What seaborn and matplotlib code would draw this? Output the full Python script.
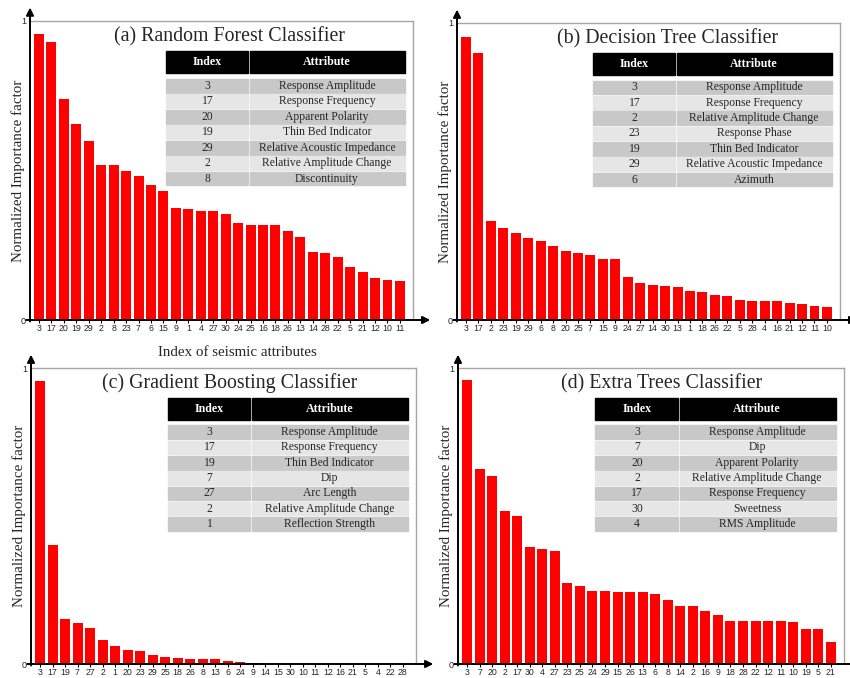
import numpy as np
import pandas as pd
import matplotlib
matplotlib.use("Agg")
import matplotlib.pyplot as plt
from matplotlib.patches import Rectangle
import seaborn as sns

# ---- data ----
rf_idx = [3, 17, 20, 19, 29, 2, 8, 23, 7, 6, 15, 9, 1, 4, 27, 30, 24, 25, 16, 18,
          26, 13, 14, 28, 22, 5, 21, 12, 10, 11]
rf_imp = [0.956, 0.931, 0.740, 0.657, 0.598, 0.519, 0.518, 0.499, 0.480, 0.451,
          0.430, 0.375, 0.371, 0.365, 0.365, 0.355, 0.323, 0.319, 0.319, 0.317,
          0.296, 0.279, 0.227, 0.225, 0.210, 0.177, 0.162, 0.140, 0.133, 0.129]

dt_idx = [3, 17, 2, 23, 19, 29, 6, 8, 20, 25, 7, 15, 9, 24, 27, 14, 30, 13, 1, 18,
          26, 22, 5, 28, 4, 16, 21, 12, 11, 10]
dt_imp = [0.954, 0.899, 0.335, 0.309, 0.294, 0.275, 0.265, 0.248, 0.233, 0.225,
          0.219, 0.204, 0.204, 0.146, 0.123, 0.119, 0.113, 0.111, 0.099, 0.095,
          0.084, 0.080, 0.068, 0.065, 0.063, 0.063, 0.058, 0.053, 0.047, 0.043]

gb_idx = [3, 17, 19, 7, 27, 2, 1, 20, 23, 29, 25, 18, 26, 8, 13, 6, 24, 9, 14, 15,
          30, 10, 11, 12, 16, 21, 5, 4, 22, 28]
gb_imp = [0.956, 0.401, 0.153, 0.139, 0.122, 0.082, 0.060, 0.046, 0.043, 0.030,
          0.024, 0.019, 0.017, 0.017, 0.017, 0.011, 0.007, 0.003, 0.001, 0.0005,
          0.0003, 0.0002, 0.0001, 0.0001, 0.0001, 0.0, 0.0, 0.0, 0.0, 0.0]

et_idx = [3, 7, 20, 2, 17, 30, 4, 27, 23, 25, 24, 29, 15, 26, 13, 6, 8, 14, 2, 16,
          9, 18, 28, 22, 12, 11, 10, 19, 5, 21]
et_imp = [0.958, 0.659, 0.636, 0.518, 0.500, 0.396, 0.389, 0.382, 0.275, 0.265,
          0.245, 0.245, 0.243, 0.243, 0.243, 0.238, 0.217, 0.197, 0.197, 0.178,
          0.166, 0.146, 0.146, 0.144, 0.144, 0.144, 0.142, 0.119, 0.117, 0.074]

rf_tab_idx = [3, 17, 20, 19, 29, 2, 8]
rf_tab_attr = ["Response Amplitude", "Response Frequency", "Apparent Polarity",
               "Thin Bed Indicator", "Relative Acoustic Impedance",
               "Relative Amplitude Change", "Discontinuity"]
dt_tab_idx = [3, 17, 2, 23, 19, 29, 6]
dt_tab_attr = ["Response Amplitude", "Response Frequency", "Relative Amplitude Change",
               "Response Phase", "Thin Bed Indicator", "Relative Acoustic Impedance",
               "Azimuth"]
gb_tab_idx = [3, 17, 19, 7, 27, 2, 1]
gb_tab_attr = ["Response Amplitude", "Response Frequency", "Thin Bed Indicator", "Dip",
               "Arc Length", "Relative Amplitude Change", "Reflection Strength"]
et_tab_idx = [3, 7, 20, 2, 17, 30, 4]
et_tab_attr = ["Response Amplitude", "Dip", "Apparent Polarity",
               "Relative Amplitude Change", "Response Frequency", "Sweetness",
               "RMS Amplitude"]

titles = ["(a) Random Forest Classifier", "(b) Decision Tree Classifier",
          "(c) Gradient Boosting Classifier", "(d) Extra Trees Classifier"]

sns.set_theme(style="white")
plt.rcParams['font.family'] = ['Liberation Serif', 'DejaVu Serif']

SERIF = 'Liberation Serif'
SANS = 'Liberation Sans'
FRAME = '#a6a6a6'


def draw_table(ax, idx, attr):
    x0, xs, x1 = 0.355, 0.572, 0.978
    gap = 0.006
    # header
    h_top, h_bot = 0.900, 0.825
    ax.add_patch(Rectangle((x0, h_bot), xs - x0 - gap / 2, h_top - h_bot,
                           transform=ax.transAxes, color='black', clip_on=False))
    ax.add_patch(Rectangle((xs + gap / 2, h_bot), x1 - xs - gap / 2, h_top - h_bot,
                           transform=ax.transAxes, color='black', clip_on=False))
    yc = (h_top + h_bot) / 2
    ax.text((x0 + xs) / 2, yc, "Index", transform=ax.transAxes, ha='center', va='center',
            color='white', fontweight='bold', fontsize=8.6, family=SERIF)
    ax.text((xs + x1) / 2, yc, "Attribute", transform=ax.transAxes, ha='center',
            va='center', color='white', fontweight='bold', fontsize=8.6, family=SERIF)
    # body rows
    r_top, r_bot = 0.809, 0.447
    rh = (r_top - r_bot) / len(idx)
    for i, (n, a) in enumerate(zip(idx, attr)):
        top = r_top - i * rh
        col = '#c8c8c8' if i % 2 == 0 else '#e6e6e6'
        ax.add_patch(Rectangle((x0, top - rh + 0.003), xs - x0 - gap / 2, rh - 0.006,
                               transform=ax.transAxes, color=col, clip_on=False))
        ax.add_patch(Rectangle((xs + gap / 2, top - rh + 0.003), x1 - xs - gap / 2,
                               rh - 0.006, transform=ax.transAxes, color=col,
                               clip_on=False))
        ax.text((x0 + xs) / 2, top - rh / 2, str(n), transform=ax.transAxes,
                ha='center', va='center', fontsize=8.4, family=SERIF)
        ax.text((xs + x1) / 2, top - rh / 2, a, transform=ax.transAxes,
                ha='center', va='center', fontsize=8.4, family=SERIF)


def draw_panel(ax, idx, imp, title, title_x, tab_idx, tab_attr):
    df = pd.DataFrame({'pos': np.arange(len(idx)), 'imp': imp})
    sns.barplot(data=df, x='pos', y='imp', color='#ff0000', saturation=1,
                width=0.8, edgecolor='none', ax=ax)
    ax.set_xlim(-0.72, 30.05)
    ax.set_ylim(0, 1)
    ax.set_xticks(np.arange(len(idx)))
    ax.set_xticklabels([str(i) for i in idx], family=SANS, fontsize=6.3)
    ax.set_yticks([0, 1])
    ax.set_yticklabels(['0', '1'], family=SANS, fontsize=6.5)
    ax.tick_params(axis='x', length=2.2, width=0.8, pad=0.8, color='black', bottom=True)
    ax.tick_params(axis='y', length=0, pad=3)
    ax.set_xlabel('')
    ax.set_ylabel('Normalized Importance factor', family=SERIF, fontsize=10.8)
    ax.yaxis.set_label_coords(-0.012, 0.5)
    for s in ['top', 'right']:
        ax.spines[s].set_color(FRAME)
        ax.spines[s].set_linewidth(1.0)
    ax.spines['left'].set_visible(False)
    ax.spines['bottom'].set_visible(False)
    # arrowed axes
    ax.annotate('', xy=(0, 1.045), xytext=(0, -0.005), xycoords='axes fraction',
                arrowprops=dict(arrowstyle='-|>', color='black', lw=1.4,
                                mutation_scale=11, shrinkA=0, shrinkB=0),
                annotation_clip=False)
    ax.annotate('', xy=(1.045, 0), xytext=(-0.01, 0), xycoords='axes fraction',
                arrowprops=dict(arrowstyle='-|>', color='black', lw=1.4,
                                mutation_scale=11, shrinkA=0, shrinkB=0),
                annotation_clip=False)
    ax.text(title_x, 0.948, title, transform=ax.transAxes, ha='center', va='center',
            fontsize=14.3, family=SERIF)
    draw_table(ax, tab_idx, tab_attr)


fig = plt.figure(figsize=(8.5, 6.78), dpi=100)
W, H = 850, 678


def add_axes(left, top, right, bottom):
    return fig.add_axes([left / W, 1 - bottom / H, (right - left) / W, (bottom - top) / H])


ax_a = add_axes(30, 21, 413, 320)
ax_b = add_axes(457, 23, 840, 320)
ax_c = add_axes(31, 368, 416, 664)
ax_d = add_axes(458, 368, 844, 664)

draw_panel(ax_a, rf_idx, rf_imp, titles[0], 0.52, rf_tab_idx, rf_tab_attr)
draw_panel(ax_b, dt_idx, dt_imp, titles[1], 0.55, dt_tab_idx, dt_tab_attr)
draw_panel(ax_c, gb_idx, gb_imp, titles[2], 0.517, gb_tab_idx, gb_tab_attr)
draw_panel(ax_d, et_idx, et_imp, titles[3], 0.528, et_tab_idx, et_tab_attr)

fig.text(237 / W, 1 - 352 / H, 'Index of seismic attributes', ha='center', va='center',
         fontsize=10.8, family=SERIF)

fig.savefig('out.png', dpi=100, facecolor='white')
